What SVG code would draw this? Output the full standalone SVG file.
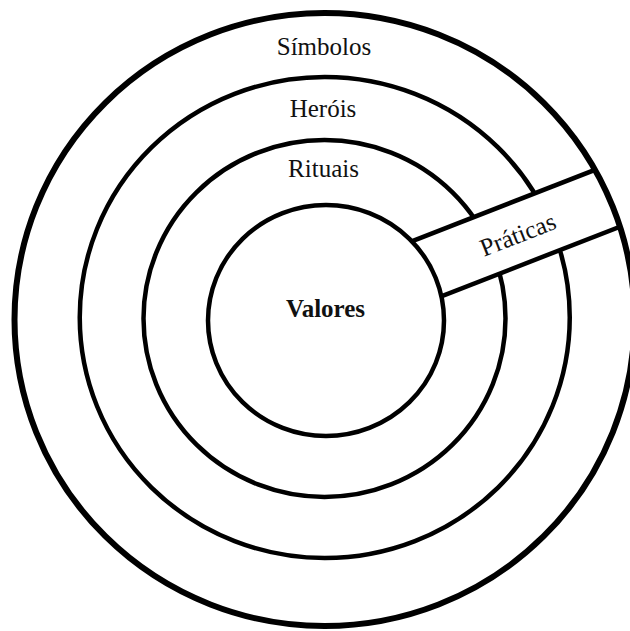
<svg xmlns="http://www.w3.org/2000/svg" width="630" height="631" viewBox="0 0 630 631">
<style>
.ring{fill:none;stroke:#000;stroke-width:4.5}
.outer{fill:none;stroke:#000;stroke-width:6}
.lbl{font-family:'Liberation Serif','Times New Roman','DejaVu Serif',serif;font-size:25px;fill:#111;text-anchor:middle}
.bold{font-weight:bold}
.edge{stroke:#000;stroke-width:4.5;fill:none}
</style>
<defs>
<clipPath id="outerClip"><ellipse cx="324.5" cy="319.5" rx="310" ry="306.5"/></clipPath>
</defs>
<rect width="630" height="631" fill="#fff"/>
<g id="simbolos">
<text class="lbl" x="324" y="55">Símbolos</text>
</g>
<g id="herois">
<ellipse class="ring" cx="324.75" cy="317.5" rx="245" ry="240.5"/>
<text class="lbl" x="323" y="116.5">Heróis</text>
</g>
<g id="rituais">
<ellipse class="ring" cx="324.5" cy="318.5" rx="181" ry="178.5"/>
<text class="lbl" x="323.5" y="176.5">Rituais</text>
</g>
<g id="praticas" clip-path="url(#outerClip)">
<polygon points="395,247.8 660,144.5 682.5,202.3 417.5,305.6" fill="#fff"/>
<line class="edge" x1="395" y1="247.8" x2="660" y2="144.5"/>
<line class="edge" x1="417.5" y1="305.6" x2="682.5" y2="202.3"/>
<text class="lbl" x="518" y="243" transform="rotate(-21.3 518 235)">Práticas</text>
</g>
<g id="valores">
<ellipse cx="326" cy="320.5" rx="118" ry="115.5" fill="#fff" stroke="#000" stroke-width="4.5"/>
<text class="lbl bold" x="325.5" y="317">Valores</text>
</g>
<g id="outer-ring">
<ellipse class="outer" cx="324.5" cy="319.5" rx="310" ry="306.5"/>
</g>
<g id="connectors"/>
</svg>
